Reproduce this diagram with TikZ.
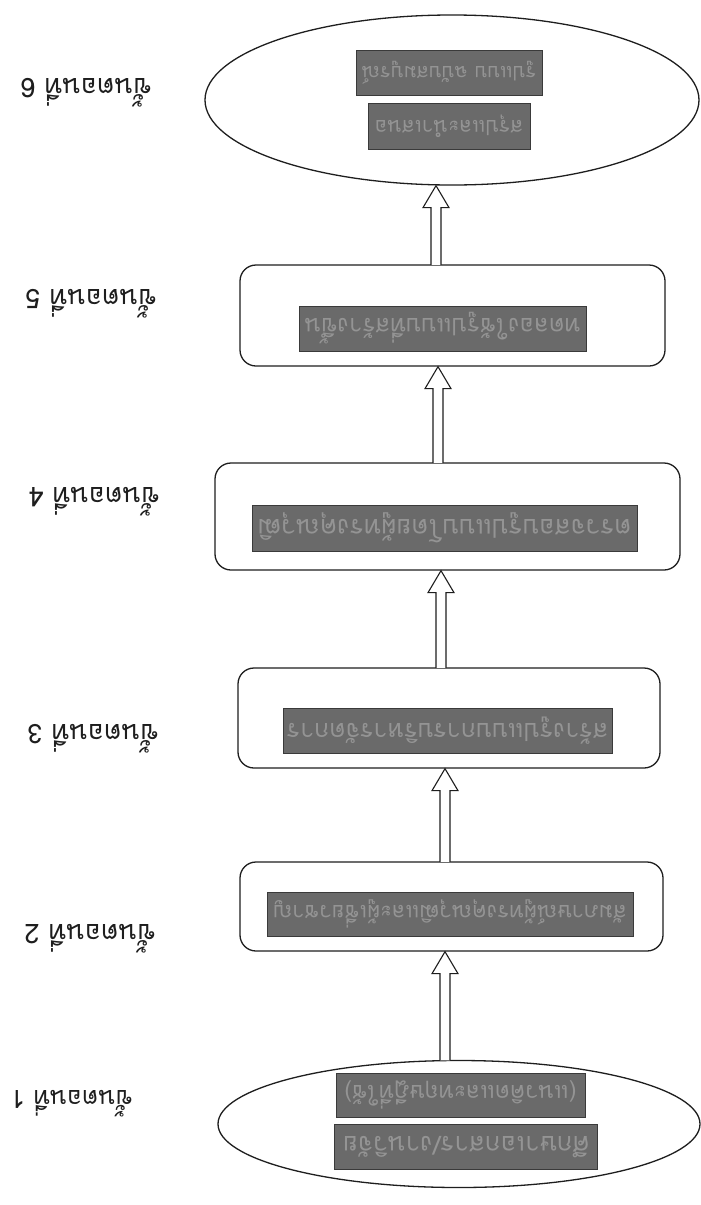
\documentclass[tikz,border=0pt]{standalone}
\usepackage{fontspec}
\usepackage{graphicx}
\usetikzlibrary{shapes.geometric,calc}
\newfontfamily\thai[Script=Thai]{Loma}
\definecolor{hl}{HTML}{6A6A6A}
\definecolor{hltext}{HTML}{949494}
\definecolor{hledge}{HTML}{3A3A3A}
\definecolor{ink}{HTML}{1E1E1E}
\newlength\fitlen
% set #3 upside down in Loma, at the whole point size that makes it about #1 pt wide (at most #2 pt)
\newcommand\fitw[3]{%
  \settowidth\fitlen{\thai\fontsize{20}{22}\selectfont #3}%
  \pgfmathtruncatemacro\fitsz{min(20*#1/\fitlen+0.5,#2)}%
  \rotatebox{180}{\thai\fontsize{\fitsz}{\fitsz}\selectfont #3}}
\newcommand\stagearrow[3]{%
  \path ($(#1.north)+(#3,0)$) coordinate (ta) ($(#1.north |- #2.south)+(#3,0)$) coordinate (tb);
  \draw[arr] ($(ta)+(-5,0.5)$) -- ($(tb)+(-5,22)$) -- ($(tb)+(-13,22)$) -- (tb) -- ($(tb)+(13,22)$) -- ($(tb)+(5,22)$) -- ($(ta)+(5,0.5)$);
}
\begin{document}
\begin{tikzpicture}[x=1pt,y=-1pt,
  stage/.style={draw=ink, line width=1.3pt, rounded corners=16pt, inner sep=0pt},
  oval/.style={draw=ink, line width=1.3pt, ellipse, inner sep=0pt},
  hlbox/.style={fill=hl, draw=hledge, line width=0.6pt, inner sep=0pt, text=hltext},
  steplabel/.style={text=ink, anchor=base, inner sep=0pt},
  arr/.style={draw=ink, line width=1.1pt, fill=white, line join=miter}
]
\useasboundingbox (0,0) rectangle (701,1205);
\fill[white] (0,0) rectangle (701,1205);

% stages
\node[oval, minimum width=494pt, minimum height=170pt] (e6) at (452,100) {};
\node[stage, minimum width=425pt, minimum height=101pt] (b5) at (452.5,315.5) {};
\node[stage, minimum width=465pt, minimum height=107pt] (b4) at (447.5,516.5) {};
\node[stage, minimum width=422pt, minimum height=100pt] (b3) at (449,718) {};
\node[stage, minimum width=423pt, minimum height=89pt] (b2) at (451.5,906.5) {};
\node[oval, minimum width=482pt, minimum height=127pt] (e1) at (459,1124) {};

% highlighted texts (the whole picture is upside down)
\node[hlbox, minimum width=186pt, minimum height=45pt] (t6b) at (449,72.5) {\fitw{172}{30}{รูปแบบ ฉบับสมบูรณ์}};
\node[hlbox, minimum width=162pt, minimum height=46pt] (t6a) at (449,126) {\fitw{148}{30}{สรุปและนำเสนอ}};
\node[hlbox, minimum width=287pt, minimum height=45pt] (t5) at (442.5,328.5) {\fitw{275}{30}{ทดลองใช้รูปแบบที่สร้างขึ้น}};
\node[hlbox, minimum width=385pt, minimum height=46pt] (t4) at (444.5,528) {\fitw{373}{30}{ตรวจสอบรูปแบบโดยผู้ทรงคุณวุฒิ}};
\node[hlbox, minimum width=329pt, minimum height=45pt] (t3) at (447.5,730.5) {\fitw{317}{30}{สร้างรูปแบบการบริหารจัดการ}};
\node[hlbox, minimum width=366pt, minimum height=44pt] (t2) at (450,914) {\fitw{354}{30}{สัมภาษณ์ผู้ทรงคุณวุฒิและผู้เชี่ยวชาญ}};
\node[hlbox, minimum width=249pt, minimum height=44pt] (t1b) at (460.5,1095) {\fitw{237}{30}{(แนวคิดและทฤษฎีที่ใช้)}};
\node[hlbox, minimum width=263pt, minimum height=45pt] (t1a) at (466,1147) {\fitw{251}{30}{ศึกษาเอกสาร/งานวิจัย}};

% step labels
\node[steplabel] (l6) at (86,78) {\fitw{132}{34}{ขั้นตอนที่ 6}};
\node[steplabel] (l5) at (91,289) {\fitw{132}{34}{ขั้นตอนที่ 5}};
\node[steplabel] (l4) at (94,487) {\fitw{132}{34}{ขั้นตอนที่ 4}};
\node[steplabel] (l3) at (93,724) {\fitw{130}{34}{ขั้นตอนที่ 3}};
\node[steplabel] (l2) at (90,924) {\fitw{130}{34}{ขั้นตอนที่ 2}};
\node[steplabel] (l1) at (72,1090) {\fitw{123}{34}{ขั้นตอนที่ 1}};

% arrows
\stagearrow{e1}{b2}{-14}
\stagearrow{b2}{b3}{-6.5}
\stagearrow{b3}{b4}{-8}
\stagearrow{b4}{b5}{-9.5}
\stagearrow{b5}{e6}{-16.5}
\end{tikzpicture}
\end{document}
